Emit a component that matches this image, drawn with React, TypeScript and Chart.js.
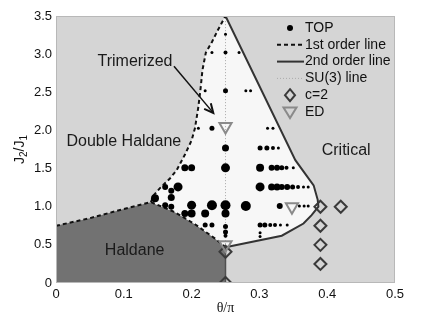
import React, { useEffect, useRef } from 'react';
import { Chart, registerables } from 'chart.js';

Chart.register(...registerables);

// ---------- data ----------
const X_MIN = 0;
const X_MAX = 0.5;
const Y_MIN = 0;
const Y_MAX = 3.5;

// Haldane / first-order boundary (lower dashed line)
const HALDANE_BOUNDARY_X = [0, 0.05, 0.1, 0.14, 0.175, 0.205, 0.235, 0.25];
const HALDANE_BOUNDARY_Y = [0.75, 0.85, 0.97, 1.06, 0.93, 0.77, 0.58, 0.47];

// Double Haldane / Trimerized first-order boundary (upper dashed line)
const FIRST_ORDER_X = [0.14, 0.144, 0.153, 0.168, 0.178, 0.19, 0.2, 0.205, 0.21, 0.213, 0.216, 0.221, 0.23, 0.239, 0.25];
const FIRST_ORDER_Y = [1.06, 1.15, 1.24, 1.37, 1.48, 1.68, 1.87, 2.03, 2.31, 2.53, 2.79, 3.02, 3.16, 3.32, 3.5];

// second-order line (solid)
const SECOND_ORDER_X = [0.25, 0.353, 0.38, 0.386, 0.387, 0.377, 0.365, 0.333, 0.25];
const SECOND_ORDER_Y = [3.5, 1.61, 1.28, 1.09, 1.0, 0.89, 0.78, 0.62, 0.47];

// SU(3) line
const SU3_X = [0.25, 0.25];
const SU3_Y = [0.47, 3.5];
const SU3_LOW_Y = [0, 0.47];

// c=2 points
const C2_X = [0.39, 0.42, 0.39, 0.39, 0.39, 0.25, 0.25];
const C2_Y = [1.0, 1.0, 0.75, 0.5, 0.25, 0.41, 0.0];

// ED points
const ED_X = [0.25, 0.348, 0.25];
const ED_Y = [2.05, 1.0, 0.5];

// TOP points and their weight (marker magnitude)
const TOP_X = [
  0.25,
  0.23, 0.25, 0.27,
  0.22, 0.25, 0.28, 0.287,
  0.21, 0.23, 0.312, 0.32,
  0.25, 0.301, 0.311, 0.32, 0.328,
  0.19, 0.2, 0.25, 0.301, 0.318, 0.326, 0.333, 0.34, 0.35,
  0.161, 0.18, 0.301, 0.318, 0.326, 0.333, 0.341, 0.349, 0.357, 0.365, 0.372,
  0.17,
  0.146, 0.17,
  0.161, 0.17, 0.2, 0.23, 0.25, 0.28, 0.33, 0.359, 0.366, 0.372,
  0.19, 0.2, 0.22, 0.25,
  0.22, 0.23, 0.301, 0.308, 0.316, 0.323, 0.331, 0.341,
  0.25, 0.25, 0.25,
  0.301, 0.301,
];
const TOP_Y = [
  3.26,
  3.02, 3.02, 3.02,
  2.52, 2.52, 2.52, 2.52,
  2.03, 2.03, 2.03, 2.03,
  1.77, 1.77, 1.77, 1.77, 1.77,
  1.51, 1.51, 1.51, 1.51, 1.51, 1.51, 1.51, 1.51, 1.51,
  1.26, 1.26, 1.26, 1.26, 1.26, 1.26, 1.26, 1.26, 1.26, 1.26, 1.26,
  1.21,
  1.11, 1.12,
  1.02, 1.0, 1.02, 1.02, 1.02, 1.01, 1.01, 1.01, 1.01, 1.01,
  0.91, 0.91, 0.91, 0.91,
  0.76, 0.76, 0.76, 0.76, 0.76, 0.76, 0.76, 0.76,
  0.74, 0.67, 0.62,
  0.66, 0.61,
];
const TOP_WEIGHT = [
  3,
  3, 4, 3,
  3, 5, 3, 3,
  3, 5, 3, 3,
  7, 5, 5, 4, 3,
  7, 7, 9, 8, 6, 6, 5, 4, 3,
  6, 9, 9, 7, 7, 6, 6, 5, 4, 3, 3,
  6,
  8, 7,
  6, 6, 9, 10, 10, 10, 6, 3, 3, 3,
  7, 8, 8, 8,
  5, 5, 5, 5, 4, 4, 3, 3,
  5, 5, 4,
  3, 3,
];

const X_TITLE = 'θ/π';
const LEGEND_LABELS = ['TOP', '1st order line', '2nd order line', 'SU(3) line', 'c=2', 'ED'];

const REGION_NAMES = ['Trimerized', 'Double Haldane', 'Critical', 'Haldane'];
const REGION_X = [0.1165, 0.1, 0.428, 0.116];
const REGION_Y = [2.9, 1.85, 1.74, 0.42];

const ARROW_TAIL = { x: 0.174, y: 2.84 };
const ARROW_TIP = { x: 0.232, y: 2.23 };

// ---------- helpers ----------
const pts = (xs: number[], ys: number[]) => xs.map((x, i) => ({ x, y: ys[i] }));

const COLORS = {
  bg: '#d5d5d5',
  haldane: '#727272',
  trimer: '#f7f7f7',
  text: '#1a1a1a',
};
const SANS = '"Liberation Sans", Arial, Helvetica, sans-serif';

const decorPlugin = {
  id: 'decor',
  beforeDraw(chart: any) {
    const { ctx, chartArea: a } = chart;
    ctx.save();
    ctx.fillStyle = COLORS.bg;
    ctx.fillRect(a.left, a.top, a.right - a.left, a.bottom - a.top);
    ctx.restore();
  },
  afterDraw(chart: any) {
    const { ctx, chartArea: a, scales } = chart;
    const xs = scales.x;
    const ys = scales.y;
    ctx.save();
    // frame
    ctx.strokeStyle = '#b8b8b8';
    ctx.lineWidth = 1;
    ctx.strokeRect(a.left + 0.5, a.top + 0.5, a.right - a.left - 1, a.bottom - a.top - 1);

    // region labels
    ctx.font = `16px ${SANS}`;
    ctx.fillStyle = COLORS.text;
    ctx.textAlign = 'center';
    ctx.textBaseline = 'middle';
    REGION_NAMES.forEach((t, i) => {
      ctx.fillText(t, xs.getPixelForValue(REGION_X[i]), ys.getPixelForValue(REGION_Y[i]));
    });

    // arrow
    const tx = xs.getPixelForValue(ARROW_TAIL.x);
    const ty = ys.getPixelForValue(ARROW_TAIL.y);
    const hx = xs.getPixelForValue(ARROW_TIP.x);
    const hy = ys.getPixelForValue(ARROW_TIP.y);
    ctx.strokeStyle = '#111';
    ctx.lineWidth = 1.5;
    ctx.beginPath();
    ctx.moveTo(tx, ty);
    ctx.lineTo(hx, hy);
    ctx.stroke();
    const ang = Math.atan2(hy - ty, hx - tx);
    const L = 10;
    ctx.beginPath();
    ctx.moveTo(hx - L * Math.cos(ang - 0.45), hy - L * Math.sin(ang - 0.45));
    ctx.lineTo(hx, hy);
    ctx.lineTo(hx - L * Math.cos(ang + 0.45), hy - L * Math.sin(ang + 0.45));
    ctx.lineWidth = 2;
    ctx.stroke();

    // legend
    const symX = a.right - 105;
    const txtX = a.right - 90;
    const rowY = (i: number) => a.top + 12 + i * 16.8;
    ctx.font = `14px ${SANS}`;
    ctx.textAlign = 'left';
    ctx.textBaseline = 'middle';
    ctx.fillStyle = '#111';
    LEGEND_LABELS.forEach((t, i) => ctx.fillText(t, txtX, rowY(i)));
    // TOP
    ctx.beginPath();
    ctx.arc(symX, rowY(0), 3, 0, Math.PI * 2);
    ctx.fillStyle = '#000';
    ctx.fill();
    // dashed
    ctx.setLineDash([4, 3]);
    ctx.lineWidth = 2;
    ctx.strokeStyle = '#111';
    ctx.beginPath();
    ctx.moveTo(symX - 13, rowY(1));
    ctx.lineTo(symX + 14, rowY(1));
    ctx.stroke();
    ctx.setLineDash([]);
    ctx.strokeStyle = '#333';
    ctx.beginPath();
    ctx.moveTo(symX - 13, rowY(2));
    ctx.lineTo(symX + 14, rowY(2));
    ctx.stroke();
    ctx.setLineDash([1, 2]);
    ctx.lineWidth = 1;
    ctx.strokeStyle = '#aaa';
    ctx.beginPath();
    ctx.moveTo(symX - 13, rowY(3));
    ctx.lineTo(symX + 14, rowY(3));
    ctx.stroke();
    ctx.setLineDash([]);
    // diamond
    ctx.strokeStyle = '#3a3a3a';
    ctx.lineWidth = 2;
    ctx.beginPath();
    const dy = rowY(4);
    ctx.moveTo(symX, dy - 6);
    ctx.lineTo(symX + 5, dy);
    ctx.lineTo(symX, dy + 6);
    ctx.lineTo(symX - 5, dy);
    ctx.closePath();
    ctx.stroke();
    // triangle
    const ty2 = rowY(5);
    ctx.strokeStyle = '#8a8a8a';
    ctx.beginPath();
    ctx.moveTo(symX - 6.5, ty2 - 4.5);
    ctx.lineTo(symX + 6.5, ty2 - 4.5);
    ctx.lineTo(symX, ty2 + 6);
    ctx.closePath();
    ctx.stroke();

    // x title
    ctx.fillStyle = '#111';
    ctx.font = `14px "Liberation Serif", "Times New Roman", serif`;
    ctx.textAlign = 'center';
    ctx.textBaseline = 'middle';
    ctx.fillText(X_TITLE, (a.left + a.right) / 2, a.bottom + 25);

    // y title J2/J1
    ctx.save();
    ctx.translate(20, (a.top + a.bottom) / 2);
    ctx.rotate(-Math.PI / 2);
    const big = `14px ${SANS}`;
    const small = `10px ${SANS}`;
    const parts: [string, boolean][] = [['J', false], ['2', true], ['/J', false], ['1', true]];
    let total = 0;
    parts.forEach(([s, sub]) => {
      ctx.font = sub ? small : big;
      total += ctx.measureText(s).width;
    });
    let cx = -total / 2;
    ctx.textAlign = 'left';
    ctx.textBaseline = 'middle';
    parts.forEach(([s, sub]) => {
      ctx.font = sub ? small : big;
      ctx.fillText(s, cx, sub ? 4 : 0);
      cx += ctx.measureText(s).width;
    });
    ctx.restore();

    ctx.restore();
  },
};

export default function App() {
  const ref = useRef<HTMLCanvasElement | null>(null);

  useEffect(() => {
    if (!ref.current) return;
    const haldaneBoundary = pts(HALDANE_BOUNDARY_X, HALDANE_BOUNDARY_Y);
    const haldanePoly = [...haldaneBoundary, { x: 0.25, y: 0 }, { x: 0, y: 0 }];
    const firstOrder = pts(FIRST_ORDER_X, FIRST_ORDER_Y);
    const secondOrder = pts(SECOND_ORDER_X, SECOND_ORDER_Y);
    const haldaneRightRev = haldaneBoundary.filter((p) => p.x >= 0.14).reverse();
    const trimerPoly = [...firstOrder, ...secondOrder.slice(1), ...haldaneRightRev.slice(1)];

    const chart = new Chart(ref.current, {
      type: 'scatter',
      data: {
        datasets: [
          {
            label: 'Haldane region',
            data: haldanePoly,
            showLine: true,
            fill: 'shape',
            backgroundColor: COLORS.haldane,
            borderWidth: 0,
            borderColor: 'rgba(0,0,0,0)',
            pointRadius: 0,
            order: 20,
          },
          {
            label: 'Trimerized region',
            data: trimerPoly,
            showLine: true,
            fill: 'shape',
            backgroundColor: COLORS.trimer,
            borderWidth: 0,
            borderColor: 'rgba(0,0,0,0)',
            pointRadius: 0,
            order: 19,
          },
          {
            label: 'SU(3) line',
            data: pts(SU3_X, SU3_Y),
            showLine: true,
            borderColor: '#a8a8a8',
            borderWidth: 1,
            borderDash: [1, 2],
            pointRadius: 0,
            order: 10,
          },
          {
            label: 'SU(3) lower',
            data: pts(SU3_X, SU3_LOW_Y),
            showLine: true,
            borderColor: '#505050',
            borderWidth: 1.5,
            pointRadius: 0,
            order: 10,
          },
          {
            label: '1st order line (Haldane)',
            data: haldaneBoundary,
            showLine: true,
            borderColor: '#111',
            borderWidth: 2,
            borderDash: [4, 3],
            pointRadius: 0,
            order: 8,
          },
          {
            label: '1st order line',
            data: firstOrder,
            showLine: true,
            borderColor: '#111',
            borderWidth: 2,
            borderDash: [4, 3],
            pointRadius: 0,
            order: 8,
          },
          {
            label: '2nd order line',
            data: secondOrder,
            showLine: true,
            borderColor: '#333',
            borderWidth: 2,
            pointRadius: 0,
            order: 8,
          },
          {
            label: 'TOP',
            data: pts(TOP_X, TOP_Y),
            backgroundColor: '#000',
            borderColor: '#000',
            borderWidth: 0,
            pointRadius: (c: any) => 0.5 * (TOP_WEIGHT[c.dataIndex] ?? 2),
            order: 3,
          },
          {
            label: 'c=2',
            data: pts(C2_X, C2_Y),
            pointStyle: 'rectRot',
            pointRadius: 6,
            backgroundColor: 'rgba(0,0,0,0)',
            borderColor: '#3a3a3a',
            borderWidth: 2,
            order: 2,
          },
          {
            label: 'ED',
            data: pts(ED_X, ED_Y),
            pointStyle: 'triangle',
            rotation: 180,
            pointRadius: 7,
            backgroundColor: 'rgba(0,0,0,0)',
            borderColor: '#8a8a8a',
            borderWidth: 2,
            order: 1,
          },
        ],
      },
      options: {
        responsive: false,
        animation: false,
        events: [],
        layout: { padding: { left: 0, top: 16, right: 30, bottom: 0 } },
        plugins: {
          legend: { display: false },
          tooltip: { enabled: false },
        },
        scales: {
          x: {
            type: 'linear',
            min: X_MIN,
            max: X_MAX,
            grid: { display: false, drawTicks: false },
            border: { display: false },
            ticks: {
              stepSize: 0.1,
              padding: 4,
              color: '#111',
              font: { family: SANS, size: 13 },
              maxRotation: 0,
            },
            afterFit: (s: any) => {
              s.height = 38;
            },
          },
          y: {
            type: 'linear',
            min: Y_MIN,
            max: Y_MAX,
            grid: { display: false, drawTicks: false },
            border: { display: false },
            ticks: {
              stepSize: 0.5,
              padding: 4,
              color: '#111',
              font: { family: SANS, size: 13 },
            },
            afterFit: (s: any) => {
              s.width = 56;
            },
          },
        },
      },
      plugins: [decorPlugin],
    } as any);
    return () => chart.destroy();
  }, []);

  return (
    <div style={{ position: 'fixed', left: 0, top: 0, width: 425, height: 321, background: '#fff' }}>
      <canvas ref={ref} width={425} height={321} style={{ display: 'block' }} />
    </div>
  );
}
